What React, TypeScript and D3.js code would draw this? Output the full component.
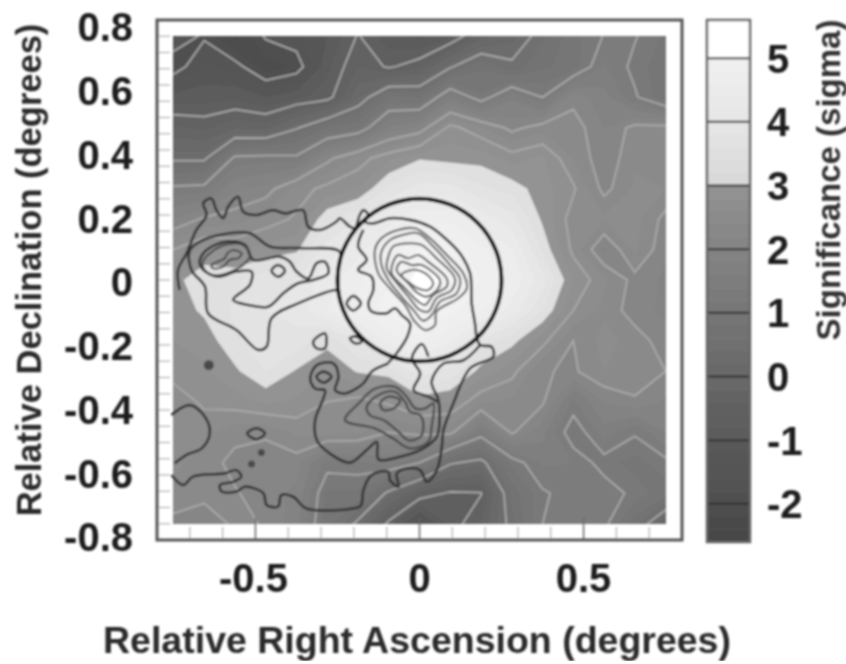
import React from 'react';
import * as d3 from 'd3';

// significance on the 17x17 sky grid, one list per column (west to east), rows top to bottom
const sigColumns = [
  [-1.8, -2.2, -1.4, -0.7, -0.1, 1.1, 1.75, 2.5, 2.9, 2.85, 2.75, 2.6, 2.35, 2.3, 2.3, 2.2, 1.9],
  [-2.05, -1.7, -1.35, -0.8, -0.1, 1.15, 2.05, 2.8, 3.2, 3.05, 2.85, 2.7, 2.55, 2.35, 2.15, 2.1, 1.8],
  [-2.6, -1.85, -1.3, -0.55, 1.1, 1.7, 2.15, 2.7, 3.2, 3.3, 3.2, 2.95, 2.65, 2.1, 1.9, 2.03, 2.06],
  [-1.95, -2.4, -1.5, -0.6, 1.15, 1.85, 2.35, 2.85, 3.4, 3.5, 3.4, 3.25, 2.8, 2.05, 1.85, 1.85, 1.98],
  [-1.8, -2.2, -1.3, -0.05, 1.1, 2.35, 2.55, 2.95, 3.5, 3.6, 3.4, 2.97, 2.7, 2.32, 1.85, 1.7, 1.6],
  [-1.5, -1.3, -1.15, 0.5, 1.9, 2.6, 3.2, 3.6, 3.9, 4.0, 3.1, 2.75, 2.5, 2.35, 1.15, 0.7, 0.6],
  [-0.97, -0.75, -0.3, 0.7, 2.35, 2.75, 3.5, 3.9, 4.2, 4.3, 3.5, 3.03, 2.4, 2.3, 1.2, 0.7, -0.1],
  [-1.4, -1.05, 0.55, 1.55, 2.7, 3.3, 3.9, 4.3, 4.5, 4.6, 4.1, 3.1, 2.55, 2.0, 1.35, -0.1, -1.1],
  [-1.55, -0.8, 0.45, 1.8, 2.97, 3.6, 4.2, 4.8, 5.2, 5.0, 4.4, 3.6, 2.85, 2.1, 1.0, -0.8, -1.9],
  [-1.3, -0.05, 1.4, 2.6, 2.9, 3.6, 4.2, 4.7, 4.9, 4.6, 4.0, 3.4, 2.75, 2.1, 0.05, -1.05, -1.2],
  [-0.6, 0.45, 0.8, 2.3, 2.9, 3.3, 3.9, 4.3, 4.5, 4.3, 3.4, 2.9, 2.3, 1.2, -0.15, -1.02, -0.7],
  [-0.35, 0.1, 1.45, 1.9, 2.65, 3.15, 3.6, 4.0, 4.2, 3.9, 3.1, 2.6, 2.2, 2.05, 0.8, 0.35, 0.15],
  [0.2, 0.45, 1.0, 2.15, 2.8, 2.85, 2.95, 3.2, 3.6, 3.25, 2.6, 2.03, 2.05, 1.6, 1.3, 0.95, 1.0],
  [0.65, 0.6, 1.9, 2.15, 2.25, 2.55, 2.35, 2.42, 2.75, 2.5, 2.0, 1.95, 1.2, 0.75, 1.25, 1.15, 1.15],
  [1.02, 1.3, 1.6, 1.75, 1.8, 1.9, 2.3, 1.7, 2.3, 2.2, 2.35, 2.25, 1.75, 1.4, 0.85, 1.2, 1.1],
  [1.03, 0.9, 1.05, 2.1, 2.2, 2.3, 2.35, 2.3, 1.9, 1.85, 2.15, 2.2, 1.95, 1.05, 0.65, 0.9, 0.35],
  [0.7, 0.55, 0.55, 2.1, 2.2, 2.25, 1.9, 1.8, 1.7, 1.7, 1.85, 2.0, 1.7, 1.5, 0.9, 0.6, -0.5],
];
const gridExtent = 0.75;
const lineLevels = [-2, -1, 0, 1, 2, 2.5];
const fillLevels = d3.range(-3, 5.5, 0.25);

const xTicks = [-0.5, 0, 0.5];
const yTicks = [-0.8, -0.6, -0.4, -0.2, 0, 0.2, 0.4, 0.6, 0.8];
const barTicks = [-2, -1, 0, 1, 2, 3, 4, 5];

type Pt = [number, number];

// overlaid dark contours, degrees
const westOuter: Pt[] = [[-.731, -.031], [-.736, .031], [-.71, .082], [-.68, .154], [-.649, .2], [-.659, .236], [-.634, .251], [-.619, .215], [-.598, .19], [-.583, .226], [-.553, .256], [-.537, .21], [-.497, .2], [-.446, .215], [-.41, .205], [-.355, .215], [-.339, .164], [-.304, .154], [-.253, .18], [-.243, .19], [-.212, .164], [-.197, .159], [-.182, .2], [-.171, .215], [-.156, .2], [-.166, .18], [-.141, .174], [-.09, .19], [-.029, .185], [.032, .164], [.073, .133], [.123, .082], [.154, .021], [.159, -.072], [.169, -.133], [.174, -.174], [.185, -.2], [.22, -.206], [.225, -.236], [.154, -.272], [.103, -.38], [.073, -.462], [.068, -.513], [.053, -.585], [.022, -.621], [.002, -.585], [-.039, -.58], [-.069, -.595], [-.064, -.636], [-.09, -.616], [-.095, -.59], [-.146, -.6], [-.171, -.647], [-.176, -.688], [-.182, -.697], [-.344, -.703], [-.385, -.667], [-.421, -.662], [-.431, -.697], [-.466, -.692], [-.476, -.656], [-.532, -.636], [-.558, -.651], [-.603, -.651], [-.608, -.631], [-.568, -.621], [-.543, -.605], [-.558, -.585], [-.593, -.595], [-.69, -.605], [-.72, -.631], [-.756, -.6]];
const westEdge: Pt[] = [[-.756, -.415], [-.7, -.385], [-.654, -.421], [-.639, -.472], [-.664, -.518], [-.71, -.538], [-.746, -.564]];
const southWest: Pt[] = [[-.095, -.257], [-.146, -.282], [-.171, -.318], [-.227, -.349], [-.257, -.339], [-.247, -.298], [-.262, -.257], [-.313, -.262], [-.333, -.303], [-.318, -.334], [-.288, -.339], [-.293, -.364], [-.318, -.431], [-.313, -.493], [-.273, -.534], [-.212, -.562], [-.161, -.523], [-.13, -.498], [-.125, -.552], [-.059, -.544], [.012, -.518], [.053, -.482], [.061, -.431], [.058, -.37], [.037, -.313], [.073, -.257], [.134, -.247], [.185, -.2]];
const innerWiggle: Pt[] = [[-.171, .154], [-.187, .103], [-.161, .062], [-.187, .031], [-.146, .01], [-.141, -.031], [-.156, -.072], [-.146, -.097], [-.1, -.102], [-.075, -.087], [-.054, -.108], [-.029, -.133], [-.037, -.174], [-.07, -.226], [-.096, -.255]];
const southSpur: Pt[] = [[.027, -.236], [.007, -.197], [-.023, -.241], [.002, -.288], [-.018, -.339], [.027, -.359], [.055, -.375]];

const westLobe: Pt[] = [[-.7, .092], [-.659, .123], [-.578, .144], [-.517, .144], [-.456, .103], [-.365, .098], [-.243, .087], [-.248, .031], [-.248, -.036], [-.253, -.031], [-.37, -.072], [-.451, -.118], [-.466, -.205], [-.492, -.215], [-.558, -.154], [-.644, -.103], [-.654, -.02], [-.695, .031]];
const westCore: Pt[] = [[-.67, .056], [-.649, .092], [-.588, .118], [-.532, .108], [-.507, .062], [-.426, .072], [-.395, .056], [-.375, .026], [-.339, .005], [-.314, .051], [-.288, .056], [-.278, .021], [-.324, 0], [-.37, -.01], [-.415, -.041], [-.461, -.082], [-.522, -.077], [-.568, -.061], [-.517, -.015], [-.512, .026], [-.558, .026], [-.614, .01], [-.659, .031]];
const westIsland: Pt[] = [[-.451, .029], [-.431, .046], [-.41, .029], [-.431, .01]];
const loopA: Pt[] = [[-.324, -.19], [-.288, -.164], [-.288, -.21], [-.314, -.21]];
const loopB: Pt[] = [[-.222, -.072], [-.202, -.049], [-.179, -.072], [-.202, -.094]];
const loopC: Pt[] = [[-.212, -.179], [-.192, -.174], [-.176, -.19], [-.197, -.195]];
const loopD: Pt[] = [[-.525, -.472], [-.497, -.456], [-.471, -.472], [-.497, -.49]];
const ringInner: Pt[] = [[-.314, -.297], [-.293, -.282], [-.268, -.297], [-.293, -.316]];

// the two nested west peak contours are thinner than the rest
const westPeakLoops: Pt[][] = [
  [[-.66, .056], [-.638, .083], [-.593, .108], [-.538, .108], [-.516, .077], [-.538, .046], [-.578, .024], [-.622, .014], [-.654, .03]],
  [[-.634, .046], [-.593, .067], [-.586, .082], [-.568, .092], [-.542, .082], [-.553, .067], [-.578, .062], [-.598, .041], [-.629, .036]],
];
const coreLoops: Pt[][] = [
  [[-.136, .092], [-.121, .123], [-.08, .149], [-.014, .159], [.032, .128], [.083, .077], [.133, .021], [.144, -.026], [.118, -.056], [.052, -.097], [.047, -.139], [.017, -.154], [-.014, -.128], [-.044, -.077], [-.09, -.026], [-.126, .021]],
  [[-.116, .087], [-.09, .123], [-.049, .139], [-.004, .144], [.042, .103], [.093, .046], [.123, .005], [.113, -.041], [.062, -.067], [.037, -.108], [.011, -.125], [-.019, -.092], [-.055, -.051], [-.095, 0], [-.116, .046]],
  [[-.095, .072], [-.08, .103], [-.029, .113], [.006, .108], [.052, .067], [.108, .005], [.098, -.031], [.052, -.056], [.027, -.097], [.001, -.092], [-.034, -.051], [-.08, .005], [-.1, .036]],
  [[-.08, .056], [-.065, .077], [-.034, .067], [-.004, .077], [.027, .056], [.083, .005], [.083, -.02], [.042, -.046], [.017, -.077], [-.009, -.062], [-.044, -.026], [-.085, .021]],
  [[-.07, .031], [-.055, .056], [-.024, .046], [.006, .046], [.062, 0], [.057, -.026], [.022, -.051], [-.004, -.041], [-.034, -.01]],
  [[-.055, .015], [-.024, .031], [.017, .021], [.042, -.01], [.027, -.031], [-.004, -.026], [-.029, -.01]],
];
const southLoops: Pt[][] = [
  [[-.227, -.431], [-.186, -.38], [-.135, -.334], [-.074, -.329], [-.039, -.359], [-.013, -.395], [.017, -.395], [.042, -.38], [.037, -.452], [.027, -.498], [-.029, -.518], [-.08, -.488], [-.135, -.457]],
  [[-.161, -.39], [-.125, -.354], [-.074, -.344], [-.044, -.375], [-.029, -.406], [.002, -.416], [.012, -.452], [.002, -.483], [-.034, -.493], [-.064, -.467], [-.11, -.431], [-.151, -.416]],
  [[-.12, -.38], [-.095, -.359], [-.059, -.37], [-.079, -.395], [-.11, -.4]],
];
const spots: Pt[] = [[-.642, -.262], [-.482, -.531], [-.512, -.566]];
const circleRadius = 0.25;

const openLines = [westOuter, westEdge, southWest, innerWiggle, southSpur];
const closedLines = [westLobe, westCore, westIsland, loopA, loopB, loopC, loopD, ringInner];

const x = d3.scaleLinear().domain([-0.8, 0.8]).range([157, 682]);
const y = d3.scaleLinear().domain([-0.8, 0.8]).range([540, 20]);
// tick labels sit a little inside the frame in the original
const yLabel = d3.scaleLinear().domain([-0.8, 0.8]).range([537, 27]);
const barY = d3.scaleLinear().domain([-2.6, 5.6]).range([542, 20]);

const nx = sigColumns.length;
const ny = sigColumns[0].length;
const gridX = d3.scaleLinear().domain([0.5, nx - 0.5]).range([x(-gridExtent), x(gridExtent)]);
const gridY = d3.scaleLinear().domain([0.5, ny - 0.5]).range([y(gridExtent), y(-gridExtent)]);

const gray = d3
  .scaleLinear<string>()
  .domain([-2.6, -2, -1, 0, 1, 2, 3, 3.01, 4, 5, 5.01, 5.6])
  .range(['#4a4a4a', '#525252', '#606060', '#6e6e6e', '#7a7a7a', '#888888', '#949494', '#dedede', '#ececec', '#f4f4f4', '#ffffff', '#ffffff'])
  .clamp(true);
const barGray = d3
  .scaleLinear<string>()
  .domain([-2.6, -2, -1, 0, 1, 2, 3, 3.01, 4, 5, 5.01, 5.6])
  .range(['#464646', '#4e4e4e', '#5a5a5a', '#686868', '#767676', '#848484', '#929292', '#d8d8d8', '#e6e6e6', '#f0f0f0', '#ffffff', '#ffffff'])
  .clamp(true);

const values: number[] = [];
for (let j = 0; j < ny; j++) for (let i = 0; i < nx; i++) values.push(sigColumns[i][j]);

const gridPath = d3.geoPath(
  d3.geoTransform({
    point(px, py) {
      this.stream.point(gridX(px), gridY(py));
    },
  })
);

const fillBands = d3.contours().size([nx, ny]).thresholds(fillLevels)(values);
const lineBands = d3.contours().size([nx, ny]).thresholds(lineLevels)(values);

const openPath = d3.line<Pt>().x((d) => x(d[0])).y((d) => y(d[1])).curve(d3.curveCatmullRom);
const closedPath = d3.line<Pt>().x((d) => x(d[0])).y((d) => y(d[1])).curve(d3.curveCatmullRomClosed);

const FONT = '"Liberation Sans", Arial, sans-serif';
const barBands = d3.range(-2.6, 5.6, 0.2);

export default function App() {
  return (
    <svg width={846} height={664} style={{ position: 'absolute', left: 0, top: 0, background: '#fff' }} fontFamily={FONT}>
      <defs>
        <clipPath id="map">
          <rect x={x(-gridExtent)} y={y(gridExtent)} width={x(gridExtent) - x(-gridExtent)} height={y(-gridExtent) - y(gridExtent)} />
        </clipPath>
        <filter id="soft" x="0" y="0" width="100%" height="100%">
          <feGaussianBlur stdDeviation="0.9" />
        </filter>
      </defs>
      <g filter="url(#soft)">
        {/* filled significance map */}
        <g clipPath="url(#map)">
          {fillBands.map((b) => (
            <path key={b.value} d={gridPath(b) || ''} fill={gray(b.value + 0.125)} />
          ))}
          {lineBands.map((b) => (
            <path key={b.value} d={gridPath(b) || ''} fill="none" stroke="#ababab" strokeWidth={1.7} />
          ))}
        </g>

        {/* overlay contours */}
        <g fill="none" stroke="#303030" strokeWidth={2.6}>
          {openLines.map((l, i) => (
            <path key={i} d={openPath(l) || ''} />
          ))}
          {closedLines.map((l, i) => (
            <path key={i} d={closedPath(l) || ''} />
          ))}
          {westPeakLoops.map((l, i) => (
            <path key={i} d={closedPath(l) || ''} stroke="#404040" strokeWidth={1.9} />
          ))}
          {southLoops.map((l, i) => (
            <path key={i} d={closedPath(l) || ''} stroke="#484848" strokeWidth={2.3} />
          ))}
          {coreLoops.map((l, i) => (
            <path key={i} d={closedPath(l) || ''} stroke="#606060" strokeWidth={2.1} />
          ))}
        </g>
        {spots.map((s, i) => (
          <circle key={i} cx={x(s[0])} cy={y(s[1])} r={i === 0 ? 5 : 3.5} fill="#4a4a4a" />
        ))}
        <ellipse
          cx={x(0)}
          cy={y(0)}
          rx={x(circleRadius) - x(0)}
          ry={y(0) - y(circleRadius)}
          fill="none"
          stroke="#111"
          strokeWidth={4}
        />

        {/* frame and ticks */}
        <g stroke="#b0b0b0" strokeWidth={1.2}>
          {d3.range(-0.75, 0.76, 0.05).map((t) => (
            <line key={t} x1={x(-0.8)} x2={x(-0.8) + 13} y1={y(t)} y2={y(t)} />
          ))}
          {d3.range(-0.7, 0.71, 0.1).map((t) => (
            <line key={t} x1={x(t)} x2={x(t)} y1={y(-0.8)} y2={y(-0.8) - 13} />
          ))}
        </g>
        <g stroke="#666" strokeWidth={1.4}>
          {xTicks.map((t) => (
            <line key={t} x1={x(t)} x2={x(t)} y1={y(-0.8)} y2={y(-0.8) - 22} />
          ))}
        </g>
        <rect x={x(-0.8)} y={y(0.8)} width={x(0.8) - x(-0.8)} height={y(-0.8) - y(0.8)} fill="none" stroke="#555" strokeWidth={3} />

        {/* tick labels */}
        <g fontSize={40} fontWeight="bold" fill="#1e1e1e">
          {yTicks.map((t) => (
            <text key={t} x={133} y={yLabel(t)} dy="0.36em" textAnchor="end">
              {t === 0 ? '0' : t.toFixed(1)}
            </text>
          ))}
          {xTicks.map((t) => (
            <text key={t} x={x(t) - (t < 0 ? 2 : 0)} y={592} textAnchor="middle">
              {t === 0 ? '0' : t.toFixed(1)}
            </text>
          ))}
          {barTicks.map((t) => (
            <text key={t} x={767} y={barY(t)} dy="0.36em" textAnchor="start">
              {t}
            </text>
          ))}
        </g>

        {/* axis titles */}
        <text x={417} y={653} textAnchor="middle" fontSize={37.5} fontWeight="bold" fill="#2a2a2a">
          Relative Right Ascension (degrees)
        </text>
        <text transform="translate(41,270) rotate(-90)" textAnchor="middle" fontSize={34.5} fontWeight="bold" fill="#2a2a2a">
          Relative Declination (degrees)
        </text>
        <text transform="translate(840,180) rotate(-90)" textAnchor="middle" fontSize={33} fontWeight="bold" fill="#333">
          Significance (sigma)
        </text>

        {/* colour bar */}
        {barBands.map((v) => (
          <rect key={v} x={707} width={43} y={barY(v + 0.2)} height={barY(v) - barY(v + 0.2) + 0.5} fill={barGray(v + 0.1)} />
        ))}
        {barTicks.map((t) => (
          <line key={t} x1={707} x2={750} y1={barY(t)} y2={barY(t)} stroke="#333" strokeWidth={2} />
        ))}
        <rect x={707} y={barY(5.6)} width={43} height={barY(-2.6) - barY(5.6)} fill="none" stroke="#666" strokeWidth={2.5} />
      </g>
    </svg>
  );
}
